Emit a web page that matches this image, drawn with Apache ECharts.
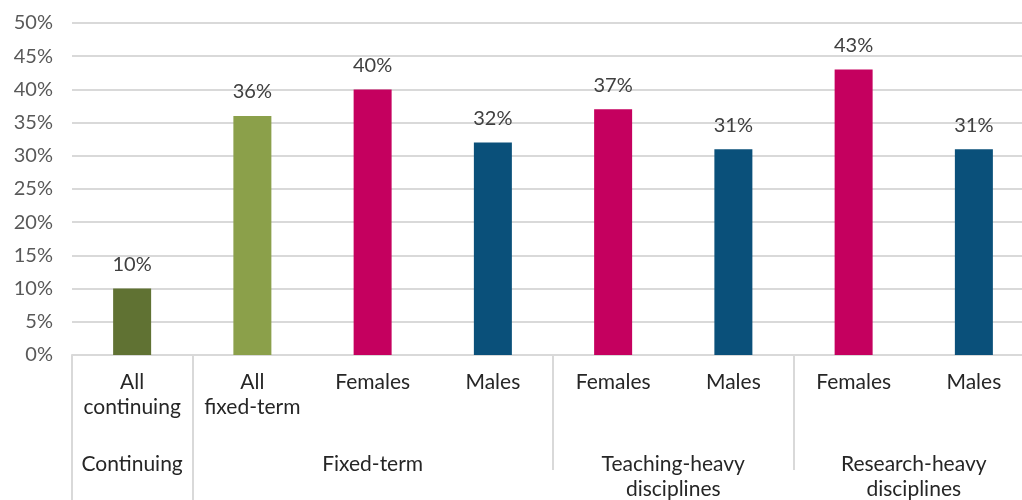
<!DOCTYPE html>
<html>
<head>
<meta charset="utf-8">
<script src="https://cdn.jsdelivr.net/npm/echarts@6/dist/echarts.min.js"></script>
<style>
  html, body { margin: 0; padding: 0; background: #fff; }
  #chart { width: 1022px; height: 500px; }
</style>
</head>
<body>
<div id="chart"></div>
<script>
// categories, values and group labels
var categories = ['All\ncontinuing', 'All\nfixed-term', 'Females', 'Males', 'Females', 'Males', 'Females', 'Males'];
var values = [10, 36, 40, 32, 37, 31, 43, 31];
var barColors = ['#607233', '#8ba04a', '#c5005f', '#0a507a', '#c5005f', '#0a507a', '#c5005f', '#0a507a'];
// group labels sit on a half-step axis (17 points, boundaries + centres)
var groupLabels = ['', 'Continuing', '', '', '', 'Fixed-term', '', '', '', '', 'Teaching-heavy\ndisciplines', '', '', '', 'Research-heavy\ndisciplines', '', ''];
var longSeps = [0, 2];
var shortSeps = [8, 12];
var yTicks = [0, 5, 10, 15, 20, 25, 30, 35, 40, 45, 50];

var FONT = 'Lato';
var chart = echarts.init(document.getElementById('chart'));

var halfSteps = groupLabels.map(function (v, i) { return 'p' + i; });

var option = {
    animation: false,
    textStyle: { fontFamily: FONT },
    grid: { left: 72, top: 23, width: 962, height: 332, containLabel: false, outerBoundsMode: 'none' },
    xAxis: [
        {
            type: 'category',
            data: categories,
            axisLine: { show: true, lineStyle: { color: '#d9d9d9', width: 2 } },
            axisTick: { show: false },
            axisLabel: {
                interval: 0, color: '#262626', fontSize: 21, lineHeight: 25,
                margin: 15, fontFamily: FONT
            }
        },
        {
            // group labels + long separators
            type: 'category',
            position: 'bottom',
            boundaryGap: false,
            data: halfSteps,
            axisLine: { show: false },
            axisTick: {
                show: true, length: 146, inside: false,
                interval: function (i) { return longSeps.indexOf(i) >= 0; },
                lineStyle: { color: '#d9d9d9', width: 2 }
            },
            axisLabel: {
                interval: 0, color: '#262626', fontSize: 21, lineHeight: 25,
                margin: 97, fontFamily: FONT,
                formatter: function (v) { return groupLabels[+v.slice(1)]; }
            }
        },
        {
            // short separators
            type: 'category',
            position: 'bottom',
            boundaryGap: false,
            data: halfSteps,
            axisLine: { show: false },
            axisTick: {
                show: true, length: 115, inside: false,
                interval: function (i) { return shortSeps.indexOf(i) >= 0; },
                lineStyle: { color: '#d9d9d9', width: 2 }
            },
            axisLabel: { show: false }
        }
    ],
    yAxis: {
        type: 'value',
        min: 0, max: 50, interval: 5,
        axisLine: { show: false },
        axisTick: { show: false },
        splitLine: { lineStyle: { color: '#d9d9d9', width: 2 } },
        axisLabel: {
            color: '#595959', fontSize: 20, margin: 19, fontFamily: FONT,
            formatter: function (v) { return yTicks.indexOf(v) >= 0 ? v + '%' : ''; }
        }
    },
    series: [
        {
            type: 'bar',
            xAxisIndex: 0,
            barWidth: 38,
            data: values.map(function (v, i) {
                return { value: v, itemStyle: { color: barColors[i] } };
            }),
            label: {
                show: true, position: 'top', distance: 14,
                color: '#404040', fontSize: 20, fontFamily: FONT,
                formatter: '{c}%'
            }
        }
    ]
};

chart.setOption(option);
</script>
</body>
</html>
